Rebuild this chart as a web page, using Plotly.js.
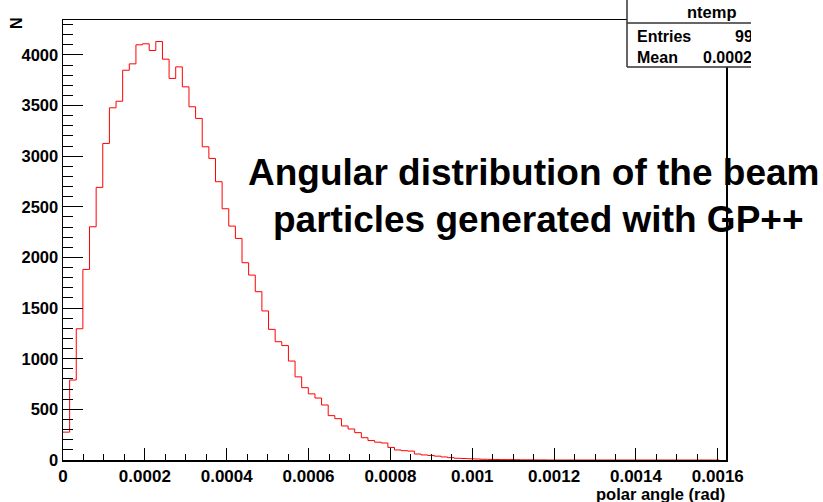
<!DOCTYPE html>
<html>
<head>
<meta charset="utf-8">
<script src="https://cdn.plot.ly/plotly-3.0.1.min.js"></script>
<style>
  html, body { margin: 0; padding: 0; background: #ffffff; }
  #chart { width: 823px; height: 502px; }
</style>
</head>
<body>
<div id="chart"></div>
<script>
// ---- data (100 bins, 0 .. 0.00162 rad) ----
const xMin = 0;
const xMax = 0.00162;
const nBins = 100;
const counts = [
  275, 790, 1296, 1882, 2303, 2692, 3126, 3478, 3543, 3849,
  3912, 4100, 4110, 4044, 4133, 3958, 3768, 3882, 3685, 3488,
  3373, 3093, 2978, 2748, 2481, 2310, 2188, 1948, 1826, 1662,
  1472, 1290, 1168, 1130, 977, 821, 714, 653, 612, 543,
  438, 408, 336, 306, 270, 220, 192, 176, 168, 124,
  99, 92, 88, 59, 50, 45, 38, 30, 23, 17,
  15, 12, 10, 7, 6, 5, 4, 4, 3, 2,
  2, 1, 1, 0, 0, 0, 0, 0, 0, 0,
  0, 0, 0, 0, 0, 0, 0, 0, 0, 0,
  0, 0, 0, 0, 0, 0, 0, 0, 0, 0
];
const titleLines = ["Angular distribution of the beam", "particles generated with GP++"];
const xAxisLabel = "polar angle (rad)";
const yAxisLabel = "N";
const statsName = "ntemp";
const statsLabels = ["Entries", "Mean"];
const statsValues = ["99999", "0.0002876"];

// ---- layout helpers (pixel -> paper) ----
const W = 823, H = 502;
const L = 63, R = 726, T = 20, B = 460;
const px = v => (v - L) / (R - L);
const py = v => (B - v) / (B - T);

const boldFont = { family: "Liberation Sans, Arial, sans-serif", weight: "bold", color: "#000" };

const trace = {
  type: "scatter",
  mode: "lines",
  y: counts,
  x0: xMin,
  dx: (xMax - xMin) / nBins,
  line: { shape: "hv", color: "#ff0000", width: 1 },
  hoverinfo: "skip",
  showlegend: false
};

const layout = {
  width: W, height: H,
  margin: { l: L, r: W - R, t: T, b: H - B, pad: 0 },
  paper_bgcolor: "#ffffff",
  plot_bgcolor: "#ffffff",
  showlegend: false,
  xaxis: {
    range: [xMin, xMax],
    showgrid: false, zeroline: false,
    showline: true, linecolor: "#000", linewidth: 1.5, mirror: true,
    ticks: "inside", ticklen: 12, tickwidth: 1, tickcolor: "#000",
    dtick: 0.0002, tick0: 0,
    tickformat: ".4~f",
    tickfont: Object.assign({ size: 17 }, boldFont),
    minor: { dtick: 0.00005, ticks: "inside", ticklen: 6, tickwidth: 1, tickcolor: "#000", showgrid: false }
  },
  yaxis: {
    range: [0, 4345],
    showgrid: false, zeroline: false,
    showline: true, linecolor: "#000", linewidth: 1.5, mirror: true,
    ticks: "inside", ticklen: 20, tickwidth: 1, tickcolor: "#000",
    dtick: 500, tick0: 0,
    tickfont: { family: "Liberation Sans Narrow, Liberation Sans, Arial, sans-serif", weight: "bold", size: 16.5, color: "#000" },
    minor: { dtick: 100, ticks: "inside", ticklen: 10, tickwidth: 1, tickcolor: "#000", showgrid: false }
  },
  shapes: [
    // stats box background
    { type: "rect", xref: "paper", yref: "paper", x0: px(627), x1: px(823), y0: py(67), y1: py(0),
      fillcolor: "#ffffff", line: { width: 0 }, layer: "above" },
    { type: "line", xref: "paper", yref: "paper", x0: px(627), x1: px(627), y0: py(67), y1: py(0),
      line: { color: "#333", width: 1.5 }, layer: "above" },
    { type: "line", xref: "paper", yref: "paper", x0: px(627), x1: px(751), y0: py(23), y1: py(23),
      line: { color: "#333", width: 1.5 }, layer: "above" },
    { type: "line", xref: "paper", yref: "paper", x0: px(627), x1: px(751), y0: py(67), y1: py(67),
      line: { color: "#333", width: 1.5 }, layer: "above" }
  ],
  annotations: [
    { text: titleLines[0], xref: "paper", yref: "paper", x: px(533), y: py(172), xanchor: "center", yanchor: "middle",
      showarrow: false, font: Object.assign({ size: 37 }, boldFont) },
    { text: titleLines[1], xref: "paper", yref: "paper", x: px(538), y: py(219), xanchor: "center", yanchor: "middle",
      showarrow: false, font: Object.assign({ size: 37 }, boldFont) },
    { text: xAxisLabel, xref: "paper", yref: "paper", x: px(727), y: py(493.5), xanchor: "right", yanchor: "middle",
      showarrow: false, font: Object.assign({ size: 16.5 }, boldFont) },
    { text: yAxisLabel, xref: "paper", yref: "paper", x: px(16), y: py(23), xanchor: "center", yanchor: "middle",
      textangle: -90, showarrow: false, font: Object.assign({ size: 16 }, boldFont) },
    { text: statsName, xref: "paper", yref: "paper", x: px(712), y: py(12), xanchor: "center", yanchor: "middle",
      showarrow: false, font: Object.assign({ size: 16.5 }, boldFont) },
    { text: statsLabels[0], xref: "paper", yref: "paper", x: px(635), y: py(36), xanchor: "left", yanchor: "middle",
      showarrow: false, font: Object.assign({ size: 16 }, boldFont) },
    { text: statsLabels[1], xref: "paper", yref: "paper", x: px(635), y: py(57), xanchor: "left", yanchor: "middle",
      showarrow: false, font: Object.assign({ size: 16 }, boldFont) },
    { text: statsValues[0], xref: "paper", yref: "paper", x: px(782), y: py(36), xanchor: "right", yanchor: "middle",
      showarrow: false, font: Object.assign({ size: 16 }, boldFont) },
    { text: statsValues[1], xref: "paper", yref: "paper", x: px(781), y: py(57), xanchor: "right", yanchor: "middle",
      showarrow: false, font: Object.assign({ size: 16 }, boldFont) },
    // white mask: the stats box is cut off at the right in the reference
    { text: " ", xref: "paper", yref: "paper", x: px(751), y: py(0), xanchor: "left", yanchor: "top",
      width: 80, height: 72, bgcolor: "#ffffff", borderpad: 0, borderwidth: 0, showarrow: false }
  ]
};

Plotly.newPlot("chart", [trace], layout, { staticPlot: true, displayModeBar: false });
</script>
</body>
</html>
